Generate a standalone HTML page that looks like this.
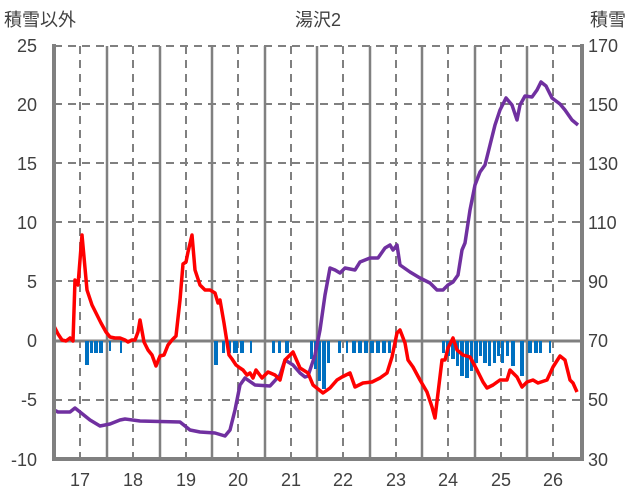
<!DOCTYPE html>
<html><head><meta charset="utf-8"><style>
body{margin:0;background:#fff}
svg{display:block;font-family:"Liberation Sans","Noto Sans CJK JP",sans-serif}
</style></head><body>
<svg width="636" height="501" viewBox="0 0 636 501">
<rect width="636" height="501" fill="#fff"/>
<g stroke="#808080" stroke-width="2" stroke-dasharray="8,6">
<line x1="54" y1="46" x2="582" y2="46"/><line x1="54" y1="104" x2="582" y2="104"/><line x1="54" y1="163" x2="582" y2="163"/><line x1="54" y1="222" x2="582" y2="222"/><line x1="54" y1="281" x2="582" y2="281"/><line x1="54" y1="400" x2="582" y2="400"/>
<line x1="80" y1="46" x2="80" y2="459"/><line x1="133" y1="46" x2="133" y2="459"/><line x1="186" y1="46" x2="186" y2="459"/><line x1="238" y1="46" x2="238" y2="459"/><line x1="291" y1="46" x2="291" y2="459"/><line x1="343" y1="46" x2="343" y2="459"/><line x1="396" y1="46" x2="396" y2="459"/><line x1="448" y1="46" x2="448" y2="459"/><line x1="501" y1="46" x2="501" y2="459"/><line x1="553" y1="46" x2="553" y2="459"/>
</g>
<g stroke="#808080" stroke-width="2.5">
<line x1="107" y1="46" x2="107" y2="459"/><line x1="160" y1="46" x2="160" y2="459"/><line x1="212" y1="46" x2="212" y2="459"/><line x1="265" y1="46" x2="265" y2="459"/><line x1="317" y1="46" x2="317" y2="459"/><line x1="370" y1="46" x2="370" y2="459"/><line x1="422" y1="46" x2="422" y2="459"/><line x1="475" y1="46" x2="475" y2="459"/><line x1="527" y1="46" x2="527" y2="459"/>
</g>
<line x1="54" y1="341" x2="582" y2="341" stroke="#808080" stroke-width="3"/>
<g fill="#0070C0">
<rect x="85" y="341" width="4" height="24"/><rect x="90" y="341" width="3" height="12"/><rect x="94" y="341" width="4" height="12"/><rect x="99" y="341" width="4" height="12"/><rect x="109" y="341" width="2" height="10"/><rect x="120" y="341" width="2" height="12"/>
<rect x="214" y="341" width="4" height="24"/><rect x="222" y="341" width="3" height="12"/><rect x="227" y="341" width="4" height="12"/><rect x="233" y="341" width="5" height="12"/><rect x="240" y="341" width="4" height="12"/><rect x="250" y="341" width="2" height="12"/>
<rect x="272" y="341" width="3" height="12"/><rect x="278" y="341" width="3" height="12"/><rect x="285" y="341" width="4" height="12"/>
<rect x="310" y="341" width="3" height="18"/><rect x="314" y="341" width="3" height="28"/><rect x="318" y="341" width="3" height="40"/><rect x="322" y="341" width="4" height="48"/><rect x="327" y="341" width="3" height="22"/><rect x="338" y="341" width="3" height="12"/><rect x="346" y="341" width="2" height="12"/>
<rect x="352" y="341" width="4" height="12"/><rect x="358" y="341" width="4" height="12"/><rect x="364" y="341" width="4" height="12"/><rect x="370" y="341" width="4" height="12"/><rect x="376" y="341" width="4" height="12"/><rect x="382" y="341" width="4" height="12"/><rect x="388" y="341" width="3" height="12"/>
<rect x="442" y="341" width="3" height="12"/><rect x="446" y="341" width="4" height="15"/><rect x="451" y="341" width="4" height="18"/><rect x="456" y="341" width="3" height="25"/><rect x="460" y="341" width="4" height="35"/><rect x="465" y="341" width="4" height="37"/><rect x="470" y="341" width="3" height="30"/><rect x="474" y="341" width="4" height="22"/><rect x="479" y="341" width="3" height="15"/>
<rect x="483" y="341" width="4" height="22"/><rect x="488" y="341" width="3" height="25"/><rect x="493" y="341" width="3" height="22"/><rect x="497" y="341" width="3" height="15"/><rect x="501" y="341" width="3" height="22"/><rect x="506" y="341" width="3" height="15"/><rect x="511" y="341" width="4" height="25"/><rect x="520" y="341" width="4" height="35"/><rect x="528" y="341" width="4" height="12"/><rect x="534" y="341" width="4" height="12"/><rect x="539" y="341" width="3" height="12"/><rect x="549" y="341" width="2" height="12"/>
</g>
<polyline fill="none" stroke="#7030A0" stroke-width="3.5" stroke-linejoin="round" points="54,410 58,412 70,412 75,408 80,412 90,420 100,426 110,424 120,420 125,419 140,421 180,422 190,430 200,432 215,433 225,436 230,430 235,410 240,385 245,378 255,385 270,386 280,375 285,360 293,365 300,373 305,377 308,376 315,355 320,330 325,295 330,268 335,270 340,273 345,268 355,270 360,262 370,258 378,258 385,248 390,245 393,250 397,245 400,265 410,272 420,278 430,283 437,290 443,290 448,285 453,282 458,275 462,250 465,243 470,210 475,185 480,172 485,165 490,145 495,125 500,110 506,98 512,105 517,120 520,105 525,96 532,97 537,90 541,82 546,86 552,98 560,104 565,110 572,120 578,125"/>
<polyline fill="none" stroke="#FF0000" stroke-width="3.5" stroke-linejoin="round" points="54,326 58,334 62,340 66,341 70,338 73,341 75,280 78,285 82,235 87,290 92,305 97,315 101,323 106,332 110,337 115,338 120,338 125,340 128,342 132,340 135,340 138,332 140,320 144,342 148,350 152,355 156,366 160,356 164,355 168,345 172,340 176,336 180,300 183,264 186,262 188,252 192,235 195,270 200,285 205,290 210,290 215,293 218,303 220,300 224,323 229,355 232,359 236,365 240,368 243,370 247,375 250,373 253,378 256,370 262,378 268,372 275,375 280,380 285,360 293,352 300,368 308,373 313,385 323,393 330,388 337,380 342,377 350,373 355,387 363,383 372,382 380,378 387,373 392,357 397,333 400,330 405,343 408,360 413,367 420,380 427,392 432,407 435,418 442,360 445,360 448,348 453,338 457,350 463,355 470,357 477,370 483,382 487,388 493,385 500,380 507,380 510,370 517,377 522,387 527,382 533,380 538,383 547,380 553,367 560,356 565,360 570,380 573,383 577,392"/>
<g stroke="#808080" stroke-width="4" fill="none">
<line x1="54" y1="44" x2="54" y2="461"/><line x1="582" y1="44" x2="582" y2="461"/><line x1="52" y1="459" x2="584" y2="459"/>
</g>
<g font-size="18" fill="#404040" text-anchor="end">
<text x="37" y="52">25</text><text x="37" y="111">20</text><text x="37" y="170">15</text><text x="37" y="229">10</text><text x="37" y="288">5</text><text x="37" y="347">0</text><text x="37" y="406">-5</text><text x="37" y="466">-10</text>
</g>
<g font-size="18" fill="#404040" text-anchor="start">
<text x="588" y="52">170</text><text x="588" y="111">150</text><text x="588" y="170">130</text><text x="588" y="229">110</text><text x="588" y="288">90</text><text x="588" y="347">70</text><text x="588" y="406">50</text><text x="588" y="466">30</text>
</g>
<g font-size="18" fill="#404040" text-anchor="middle">
<text x="80" y="486">17</text><text x="133" y="486">18</text><text x="186" y="486">19</text><text x="238" y="486">20</text><text x="291" y="486">21</text><text x="343" y="486">22</text><text x="396" y="486">23</text><text x="448" y="486">24</text><text x="501" y="486">25</text><text x="553" y="486">26</text>
<text x="318" y="26">湯沢2</text>
</g>
<text x="4" y="26" font-size="18" fill="#404040">積雪以外</text>
<text x="590" y="26" font-size="18" fill="#404040">積雪</text>
</svg>
</body></html>
